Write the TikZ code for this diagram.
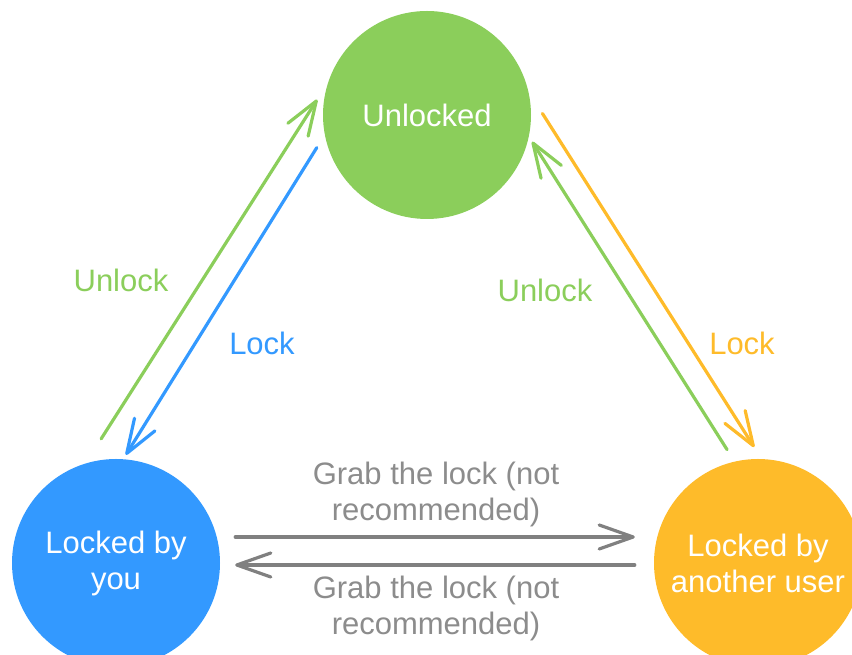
\documentclass[tikz,border=0pt]{standalone}
\usepackage{fontspec}
\setmainfont{Liberation Sans}
\usepackage{tikz}
\usetikzlibrary{arrows.meta}
\usepackage{xcolor}
\definecolor{lkgreen}{HTML}{8BCE5B}
\definecolor{lkblue}{HTML}{3399FF}
\definecolor{lkorange}{HTML}{FEBB2A}
\definecolor{lkgray}{HTML}{808080}
\definecolor{lktext}{HTML}{8C8C8C}

\begin{document}
\begin{tikzpicture}[
  x=1pt,y=1pt,
  font=\fontsize{31}{36}\selectfont,
  tip/.tip={Straight Barb[length=34pt,width=24pt,line join=round,line cap=round]},
  state/.style={circle,draw=none,minimum size=208pt,inner sep=0pt,
                align=center,text=white},
  line/.style={-tip,line width=3.2pt,line cap=round},
  lbl/.style={align=center,inner sep=0pt}
]
\useasboundingbox (0,0) rectangle (852,655);
\node[state,fill=lkgreen] (unlocked) at (427,540) {Unlocked};
\node[state,fill=lkblue] (byyou) at (116,92) {Locked by\\you};
\node[state,fill=lkorange] (byother) at (758,92) {Locked by\\another user};

\node[lbl,text=lkgreen] (unlockl) at (121,375) {Unlock};
\node[lbl,text=lkblue] (lockl) at (262,312) {Lock};
\node[lbl,text=lkgreen] (unlockr) at (545,365) {Unlock};
\node[lbl,text=lkorange] (lockr) at (742,312) {Lock};
\node[lbl,text=lktext] (grabtop) at (436,161) {Grab the lock (not\\recommended)};
\node[lbl,text=lktext] (grabbot) at (436,47) {Grab the lock (not\\recommended)};

\draw[line,draw=lkgreen,shorten <=29pt,shorten >=20pt] (byyou.107.2) -- (unlocked.162.9);
\draw[line,draw=lkblue,shorten <=15pt,shorten >=5pt] (unlocked.191.2) -- (byyou.86.5);
\draw[line,draw=lkorange,shorten <=26pt,shorten >=14pt] (unlocked.13.2) -- (byother.88.6);
\draw[line,draw=lkgreen,shorten <=14pt,shorten >=6pt] (byother.103.1) -- (unlocked.-12.1);
\draw[line,draw=lkgray,shorten <=15pt,shorten >=19pt]
  ([yshift=26pt]byyou.east) -- ([yshift=26pt]byother.west);
\draw[line,draw=lkgray,shorten <=19pt,shorten >=15pt]
  ([yshift=-2pt]byother.west) -- ([yshift=-2pt]byyou.east);
\end{tikzpicture}
\end{document}
